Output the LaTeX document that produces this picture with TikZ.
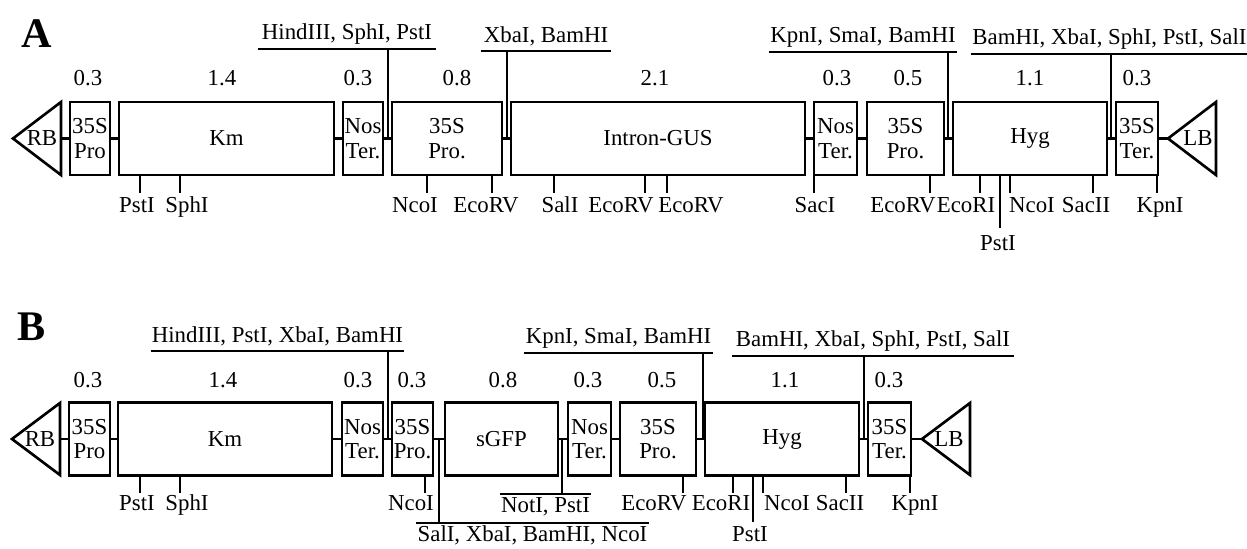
\documentclass[tikz,border=0pt]{standalone}
\usepackage{fontspec}
\setmainfont{Liberation Serif}
\usetikzlibrary{calc}

\begin{document}
\begin{tikzpicture}
[x=0.02cm, y=-0.02cm, line width=1.5pt,
 part/.style={draw, inner sep=0pt, minimum height=1.46cm, align=center,
   font=\fontsize{13}{14}\selectfont},
 txt/.style={inner sep=0pt, font=\fontsize{13}{14}\selectfont},
 site/.style={txt, anchor=base},
 sites/.style={txt, anchor=south, inner ysep=2pt},
 sitesb/.style={txt, anchor=north, inner ysep=1pt},
 panel/.style={anchor=base, inner sep=0pt, font=\fontsize{24}{24}\selectfont\bfseries},
 link/.style={line width=1.5pt}]
\useasboundingbox (0,0) rectangle (1247,548);

% ---- A ----
\node (A) at (37,47)[panel] {A};
\coordinate (rbA) at (61,138.5);
\draw[link] (rbA) -- (61,102) -- (13,138.5) -- (61,175) -- cycle;
\node (rbAt) at (42,138.5)[txt] {RB};
\node (proA1) at (90,138.5)[part, minimum width=0.8cm] {35S\\Pro};
\node (kmA) at (226.5,138.5)[part, minimum width=4.3cm] {Km};
\node (nosA1) at (363,138.5)[part, minimum width=0.8cm] {Nos\\Ter.};
\node (proA2) at (447,138.5)[part, minimum width=2.2cm] {35S\\Pro.};
\node (gusA) at (658,138.5)[part, minimum width=5.88cm] {Intron-GUS};
\node (nosA2) at (835.5,138.5)[part, minimum width=0.86cm] {Nos\\Ter.};
\node (proA3) at (905.5,138.5)[part, minimum width=1.54cm] {35S\\Pro.};
\node (hygA) at (1030,138.5)[part, minimum width=3.08cm] {Hyg};
\node (terA) at (1137,138.5)[part, minimum width=0.84cm] {35S\\Ter.};
\coordinate (lbA) at (1168,138.5);
\draw[link] (lbA) -- (1216,102) -- (1216,175) -- cycle;
\node (lbAt) at (1198,138.5)[txt] {LB};

\foreach \a/\b in {rbA/proA1, proA1/kmA, kmA/nosA1, nosA1/proA2, proA2/gusA,
    gusA/nosA2, nosA2/proA3, proA3/hygA, hygA/terA, terA/lbA}
  \draw[link] (\a) -- (\b);

\foreach \x/\t [count=\i] in {88/0.3, 222/1.4, 358/0.3, 457/0.8, 655/2.1,
    837/0.3, 908/0.5, 1030/1.1, 1137/0.3}
  \node (kbA\i) at (\x,85)[site] {\t};

% sites above
\node (sA1) at (347,49)[sites, minimum width=3.52cm] {HindIII, SphI, PstI};
\node (sA2) at (546,51)[sites, minimum width=2.56cm] {XbaI, BamHI};
\node (sA3) at (863,52)[sites, minimum width=3.72cm] {KpnI, SmaI, BamHI};
\node (sA4) at (1109.5,54)[sites, minimum width=5.5cm] {BamHI, XbaI, SphI, PstI, SalI};
\coordinate (jA1) at (388,138.5);
\coordinate (jA2) at (507,138.5);
\coordinate (jA3) at (948,138.5);
\coordinate (jA4) at (1111,138.5);
\foreach \i in {1,...,4} {
  \draw[link] (sA\i.south west) -- (sA\i.south east);
  \draw[link] (jA\i) -- (jA\i |- sA\i.south);
}

% sites below
\foreach \x in {140,180,427,492,554,645,667,814,930,980,1010,1093,1157}
  \draw[link] (\x,175) -- (\x,193);
\draw[link] (1000,175) -- (1000,228);
\foreach \x/\t [count=\i] in {137/PstI, 187/SphI, 415/NcoI, 486/EcoRV, 560/SalI,
    621/EcoRV, 691/EcoRV, 815/SacI, 903/EcoRV, 966/EcoRI, 1032/NcoI,
    1086/SacII, 1160/KpnI}
  \node (cutA\i) at (\x,212)[site] {\t};
\node (cutApst) at (998,250)[site] {PstI};

% ---- B ----
\node (B) at (32,340)[panel] {B};
\coordinate (rbB) at (60,439);
\draw[link] (rbB) -- (60,403) -- (12,439) -- (60,475) -- cycle;
\node (rbBt) at (40,439)[txt] {RB};
\node (proB1) at (89.5,439)[part, minimum width=0.82cm] {35S\\Pro};
\node (kmB) at (225,439)[part, minimum width=4.28cm] {Km};
\node (nosB1) at (362.5,439)[part, minimum width=0.82cm] {Nos\\Ter.};
\node (proB2) at (412.5,439)[part, minimum width=0.82cm] {35S\\Pro.};
\node (gfpB) at (501.5,439)[part, minimum width=2.26cm] {sGFP};
\node (nosB2) at (589.5,439)[part, minimum width=0.86cm] {Nos\\Ter.};
\node (proB3) at (658,439)[part, minimum width=1.52cm] {35S\\Pro.};
\node (hygB) at (782,439)[part, minimum width=3.08cm] {Hyg};
\node (terB) at (889.5,439)[part, minimum width=0.86cm] {35S\\Ter.};
\coordinate (lbB) at (922,439);
\draw[link] (lbB) -- (970,403) -- (970,475) -- cycle;
\node (lbBt) at (949,439)[txt] {LB};

\foreach \a/\b in {rbB/proB1, proB1/kmB, kmB/nosB1, nosB1/proB2, proB2/gfpB,
    gfpB/nosB2, nosB2/proB3, proB3/hygB, hygB/terB, terB/lbB}
  \draw[link] (\a) -- (\b);

\foreach \x/\t [count=\i] in {88/0.3, 223/1.4, 358/0.3, 412/0.3, 503/0.8,
    588/0.3, 662/0.5, 785/1.1, 889/0.3}
  \node (kbB\i) at (\x,387)[site] {\t};

% sites above
\node (sB1) at (277.5,351)[sites, minimum width=5.02cm] {HindIII, PstI, XbaI, BamHI};
\node (sB2) at (618.5,353)[sites, minimum width=3.74cm] {KpnI, SmaI, BamHI};
\node (sB3) at (873,356)[sites, minimum width=5.6cm] {BamHI, XbaI, SphI, PstI, SalI};
\coordinate (jB1) at (388,439);
\coordinate (jB2) at (703,439);
\coordinate (jB3) at (864,439);
\foreach \i in {1,2,3} {
  \draw[link] (sB\i.south west) -- (sB\i.south east);
  \draw[link] (jB\i) -- (jB\i |- sB\i.south);
}

% sites below the linkers
\node (nB1) at (545.5,494)[sitesb, minimum width=1.74cm] {NotI, PstI};
\node (nB2) at (532.5,523)[sitesb, minimum width=4.42cm] {SalI, XbaI, BamHI, NcoI};
\coordinate (kB1) at (562,439);
\coordinate (kB2) at (439,439);
\foreach \i in {1,2} {
  \draw[link] (nB\i.north west) -- (nB\i.north east);
  \draw[link] (kB\i) -- (kB\i |- nB\i.north);
}

\foreach \x in {140,180,425,683,733,763,846,910}
  \draw[link] (\x,475) -- (\x,493);
\draw[link] (753,475) -- (753,522);
\foreach \x/\t [count=\i] in {137/PstI, 187/SphI, 411/NcoI, 654/EcoRV,
    721/EcoRI, 787/NcoI, 840/SacII, 915/KpnI}
  \node (cutB\i) at (\x,510)[site] {\t};
\node (cutBpst) at (750,541)[site] {PstI};

\end{tikzpicture}
\end{document}
